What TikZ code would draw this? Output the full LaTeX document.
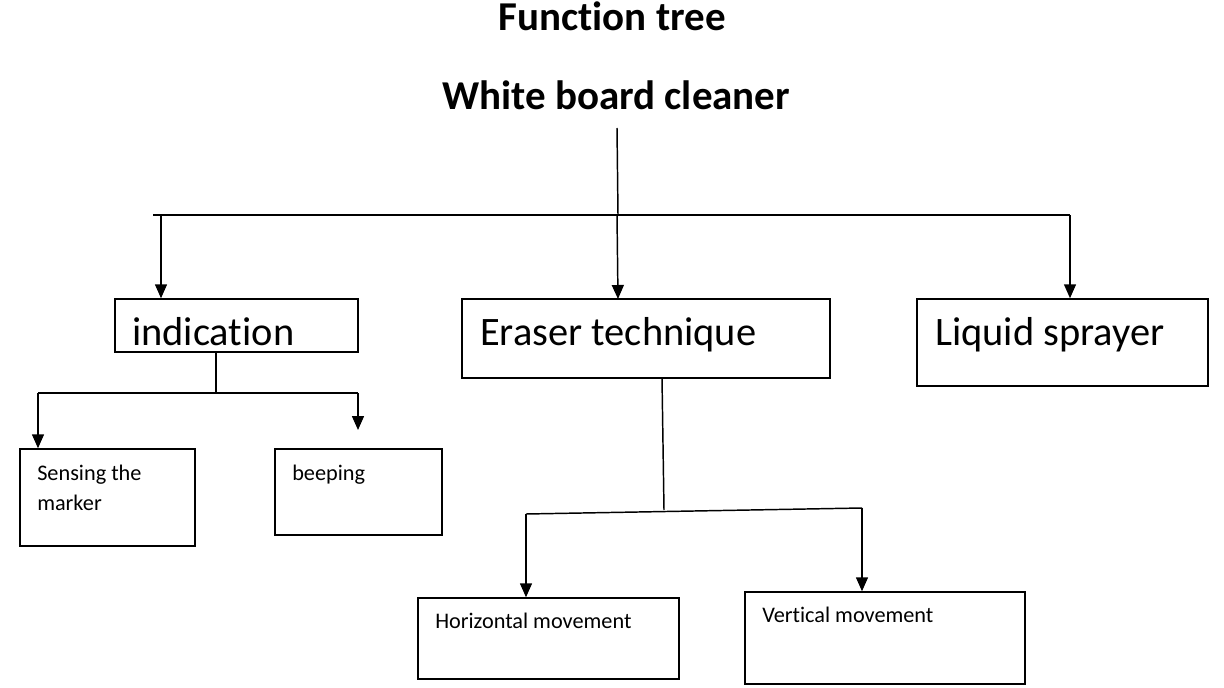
\documentclass[tikz,border=0pt]{standalone}
\usepackage{fontspec}
\setmainfont{Carlito}[Ligatures=CommonOff]
\usetikzlibrary{arrows.meta,fit}
\begin{document}
\begin{tikzpicture}[x=0.75pt,y=-0.75pt,
  box/.style={draw, line width=1.1pt, inner sep=0pt},
  conn/.style={line width=1.1pt},
  arr/.style={line width=1.1pt, -{Triangle[length=10.5pt,width=9pt]}},
  ttl/.style={font=\fontsize{30.75}{36}\selectfont\bfseries, inner sep=0pt},
  big/.style={font=\fontsize{30.3}{36}\selectfont, inner sep=0pt, anchor=base west},
  small/.style={font=\fontsize{16.7}{22.5}\selectfont, inner sep=0pt, anchor=base west, align=left}]
\useasboundingbox[fill=white] (0,0) rectangle (1224,688);

% titles
\node[ttl, anchor=base] (title) at (612,31) {Function tree};
\node[ttl, anchor=base west] (root) at (442,110) {White board cleaner};

% boxes
\node[box, fit={(115,299) (358,352)}] (ind) {};
\node[box, fit={(462,299) (830,378)}] (ert) {};
\node[box, fit={(917,299) (1208,386)}] (liq) {};
\node[box, fit={(20,449) (195,546)}] (sen) {};
\node[box, fit={(275,449) (442,535)}] (bee) {};
\node[box, fit={(418,598) (679,679)}] (hor) {};
\node[box, fit={(745,592) (1025,684)}] (ver) {};

% texts
\node[big] (tind) at (132,345) {indication};
\node[big] (tert) at (480,345) {Eraser technique};
\node[big] (tliq) at (935,345) {Liquid sprayer};
\node[small] (tsen) at (37,480) {Sensing the};
\node[small] (tsen2) at (37,510) {marker};
\node[small] (tbee) at (292,480) {beeping};
\node[small] (thor) at (435,628) {Horizontal movement};
\node[small] (tver) at (762,622) {Vertical movement};

% level 1 connectors
\coordinate (rs) at (617,128);
\coordinate (rb) at (618,215);
\coordinate (busL) at (153,215);
\coordinate (busR) at (1070,215);
\coordinate (a1) at (161,215);
\coordinate (a2) at (617,215);
\coordinate (a3) at (1070,215);
\draw[conn] (rs) -- (rb);
\draw[conn] (busL) -- (busR);
\draw[arr] (a1) -- (a1 |- ind.north);
\draw[arr] (a2) -- (618,299);
\draw[arr] (a3) -- (a3 |- liq.north);

% indication children
\coordinate (is) at (216,352);
\coordinate (ib) at (216,393);
\coordinate (ibL) at (38,393);
\coordinate (ibR) at (358,393);
\coordinate (beeArr) at (358,430);
\draw[conn] (is) -- (ib);
\draw[conn] (ibL) -- (ibR);
\draw[arr] (ibL) -- (ibL |- sen.north);
\draw[arr] (ibR) -- (beeArr);

% eraser children
\coordinate (es) at (662,378);
\coordinate (eb) at (664,510);
\coordinate (ebL) at (526,514);
\coordinate (ebR) at (862,508);
\draw[conn] (es) -- (eb);
\draw[conn] (ebL) -- (ebR);
\draw[arr] (ebL) -- (ebL |- hor.north);
\draw[arr] (ebR) -- (ebR |- ver.north);
\end{tikzpicture}
\end{document}
